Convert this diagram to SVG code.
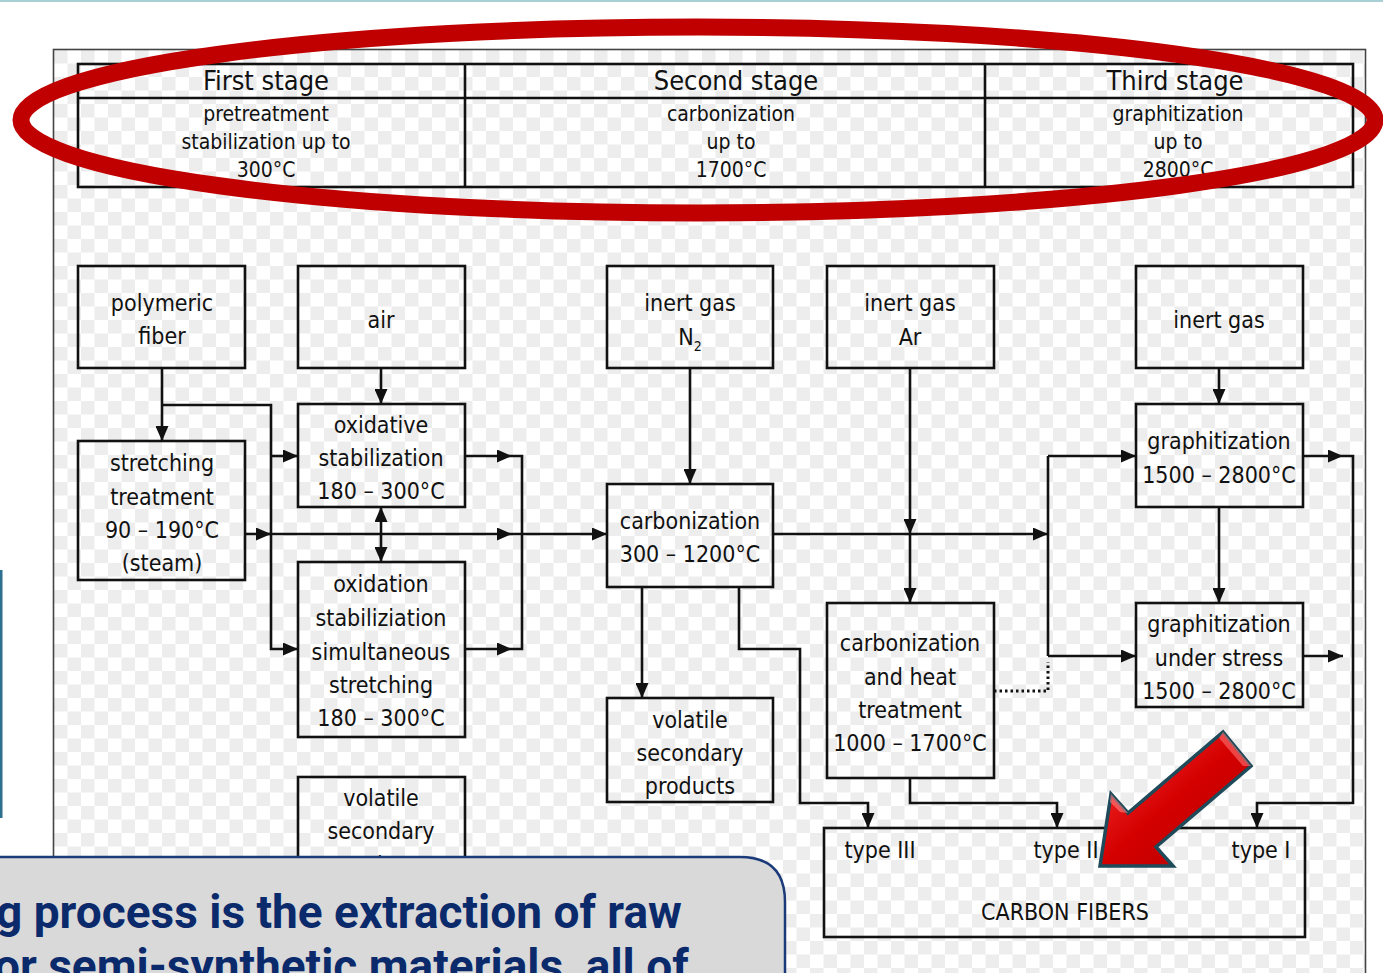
<svg xmlns="http://www.w3.org/2000/svg" width="1383" height="973" viewBox="0 0 1383 973">
<defs>
<pattern id="chk" x="54" y="50" width="27" height="27" patternUnits="userSpaceOnUse">
<rect width="27" height="27" fill="#ffffff"/>
<rect width="13.5" height="13.5" fill="#ededed"/>
<rect x="13.5" y="13.5" width="13.5" height="13.5" fill="#ededed"/>
</pattern>
<marker id="ah" markerUnits="userSpaceOnUse" markerWidth="15" markerHeight="13" refX="15" refY="6.5" orient="auto">
<path d="M0,0 L15,6.5 L0,13 z" fill="#111"/>
</marker>
<linearGradient id="rg" x1="0" y1="0" x2="1" y2="1">
<stop offset="0" stop-color="#ff3a3a"/>
<stop offset="0.5" stop-color="#d40000"/>
<stop offset="1" stop-color="#b00000"/>
</linearGradient>
<style>
.box{fill:none;stroke:#111;stroke-width:2.6}
.t{font-family:"DejaVu Sans Condensed","Liberation Sans Narrow","Liberation Sans",sans-serif;font-size:23px;fill:#111;text-anchor:middle}
.th{font-family:"DejaVu Sans Condensed","Liberation Sans Narrow","Liberation Sans",sans-serif;font-size:27px;fill:#111;text-anchor:middle}
.ts{font-family:"DejaVu Sans Condensed","Liberation Sans Narrow","Liberation Sans",sans-serif;font-size:21px;fill:#111;text-anchor:middle}
.c{fill:none;stroke:#111;stroke-width:2.6}
.ce{fill:none;stroke:#111;stroke-width:2.6;marker-end:url(#ah)}
.cal{font-family:Roboto,"Liberation Sans",sans-serif;font-weight:700;font-size:46px;fill:#0b2a6b}
</style>
</defs>
<rect width="1383" height="973" fill="#ffffff"/>
<rect x="0" y="0" width="1383" height="2" fill="#a9cfd6"/>
<rect x="0" y="570" width="2.5" height="248" fill="#2f6f8f"/>
<g id="frame">
<rect x="54" y="50" width="1311" height="930" fill="url(#chk)"/>
<rect x="53.5" y="49.5" width="1312" height="940" fill="none" stroke="#444" stroke-width="1.6"/>
</g>
<g id="table">
<rect class="box" x="78" y="64" width="1275" height="123"/>
<line class="c" x1="78" y1="98" x2="1353" y2="98"/>
<line class="c" x1="465" y1="64" x2="465" y2="187"/>
<line class="c" x1="985" y1="64" x2="985" y2="187"/>
<text class="th" x="266" y="90">First stage</text>
<text class="th" x="736" y="90">Second stage</text>
<text class="th" x="1175" y="90">Third stage</text>
<text class="ts" x="266" y="121">pretreatment</text>
<text class="ts" x="266" y="149">stabilization up to</text>
<text class="ts" x="266" y="177">300°C</text>
<text class="ts" x="731" y="121">carbonization</text>
<text class="ts" x="731" y="149">up to</text>
<text class="ts" x="731" y="177">1700°C</text>
<text class="ts" x="1178" y="121">graphitization</text>
<text class="ts" x="1178" y="149">up to</text>
<text class="ts" x="1178" y="177">2800°C</text>
</g>
<g id="connectors">
<path class="ce" d="M162 368 V441"/>
<path class="ce" d="M162 405 H271 V649 H298"/>
<path class="ce" d="M271 456 H298"/>
<path class="ce" d="M381 368 V404"/>
<path class="ce" d="M245 534 H271"/>
<path class="ce" d="M271 534 H512"/>
<path class="ce" d="M512 534 H607"/>
<path class="ce" d="M381 534 V507"/>
<path class="ce" d="M381 534 V562"/>
<path class="ce" d="M465 456 H512"/>
<path class="c" d="M512 456 H522 V649 H512"/>
<path class="ce" d="M465 649 H512"/>
<path class="ce" d="M690 368 V484"/>
<path class="ce" d="M642 587 V698"/>
<path class="ce" d="M739 587 V649 H800 V803 H868 V828"/>
<path class="ce" d="M910 368 V534"/>
<path class="ce" d="M910 534 V603"/>
<path class="ce" d="M773 534 H1048"/>
<path class="c" d="M1048 456 V656"/>
<path class="ce" d="M1048 456 H1136"/>
<path class="ce" d="M1048 656 H1136"/>
<path d="M994 691 H1048 V662" fill="none" stroke="#111" stroke-width="3" stroke-dasharray="2.5 3"/>
<path class="ce" d="M1219 368 V404"/>
<path class="ce" d="M1219 507 V603"/>
<path class="ce" d="M1303 456 H1343"/>
<path class="ce" d="M1343 456 H1353 V803 H1257 V828"/>
<path class="ce" d="M1303 656 H1343"/>
<path class="ce" d="M910 778 V803 H1057 V828"/>
</g>
<g id="n-polymeric">
<rect class="box" x="78" y="266" width="167" height="102"/>
<text class="t" x="162" y="311">polymeric</text>
<text class="t" x="162" y="344">fiber</text>
</g>
<g id="n-air">
<rect class="box" x="298" y="266" width="167" height="102"/>
<text class="t" x="381" y="328">air</text>
</g>
<g id="n-n2">
<rect class="box" x="607" y="266" width="166" height="102"/>
<text class="t" x="690" y="311">inert gas</text>
<text class="t" x="690" y="345">N<tspan font-size="14" dy="6">2</tspan></text>
</g>
<g id="n-ar">
<rect class="box" x="827" y="266" width="167" height="102"/>
<text class="t" x="910" y="311">inert gas</text>
<text class="t" x="910" y="345">Ar</text>
</g>
<g id="n-inert">
<rect class="box" x="1136" y="266" width="167" height="102"/>
<text class="t" x="1219" y="328">inert gas</text>
</g>
<g id="n-oxidative">
<rect class="box" x="298" y="404" width="167" height="103"/>
<text class="t" x="381" y="433">oxidative</text>
<text class="t" x="381" y="466">stabilization</text>
<text class="t" x="381" y="499">180 – 300°C</text>
</g>
<g id="n-stretching">
<rect class="box" x="78" y="441" width="167" height="139"/>
<text class="t" x="162" y="471">stretching</text>
<text class="t" x="162" y="505">treatment</text>
<text class="t" x="162" y="538">90 – 190°C</text>
<text class="t" x="162" y="571">(steam)</text>
</g>
<g id="n-oxidation">
<rect class="box" x="298" y="562" width="167" height="175"/>
<text class="t" x="381" y="592">oxidation</text>
<text class="t" x="381" y="626">stabiliziation</text>
<text class="t" x="381" y="660">simultaneous</text>
<text class="t" x="381" y="693">stretching</text>
<text class="t" x="381" y="726">180 – 300°C</text>
</g>
<g id="n-volatile1">
<rect class="box" x="298" y="777" width="167" height="103"/>
<text class="t" x="381" y="806">volatile</text>
<text class="t" x="381" y="839">secondary</text>
<text class="t" x="381" y="873">products</text>
</g>
<g id="n-carbonization">
<rect class="box" x="607" y="484" width="166" height="103"/>
<text class="t" x="690" y="529">carbonization</text>
<text class="t" x="690" y="562">300 – 1200°C</text>
</g>
<g id="n-volatile2">
<rect class="box" x="607" y="698" width="166" height="104"/>
<text class="t" x="690" y="728">volatile</text>
<text class="t" x="690" y="761">secondary</text>
<text class="t" x="690" y="794">products</text>
</g>
<g id="n-carbheat">
<rect class="box" x="827" y="603" width="167" height="175"/>
<text class="t" x="910" y="651">carbonization</text>
<text class="t" x="910" y="685">and heat</text>
<text class="t" x="910" y="718">treatment</text>
<text class="t" x="910" y="751">1000 – 1700°C</text>
</g>
<g id="n-graph">
<rect class="box" x="1136" y="404" width="167" height="103"/>
<text class="t" x="1219" y="449">graphitization</text>
<text class="t" x="1219" y="483">1500 – 2800°C</text>
</g>
<g id="n-graphstress">
<rect class="box" x="1136" y="603" width="167" height="104"/>
<text class="t" x="1219" y="632">graphitization</text>
<text class="t" x="1219" y="666">under stress</text>
<text class="t" x="1219" y="699">1500 – 2800°C</text>
</g>
<g id="n-carbonfibers">
<rect class="box" x="824" y="828" width="481" height="109"/>
<text class="t" x="880" y="858">type III</text>
<text class="t" x="1066" y="858">type II</text>
<text class="t" x="1261" y="858">type I</text>
<text class="t" x="1065" y="920">CARBON FIBERS</text>
</g>
<g id="highlight-ellipse">
<ellipse cx="698" cy="120" rx="677" ry="93" fill="none" stroke="#c00000" stroke-width="17"/>
</g>
<g id="red-arrow">
<polygon points="1100,866 1111,794 1128,813 1223,732 1251,766 1156,847 1173,866" fill="url(#rg)" stroke="#1e4a5a" stroke-width="3.5" stroke-linejoin="miter"/>
<polygon points="1223,732 1251,766 1243,766 1219,738" fill="#ff7070" opacity="0.6"/>
<polygon points="1111,794 1128,813 1120,812 1110,802" fill="#ff8080" opacity="0.6"/>
</g>
<g id="callout">
<path d="M-20 857 H740 Q785 857 785 902 V1000 H-20 Z" fill="#d9d9d9" stroke="#1a3a7a" stroke-width="2.5"/>
<text class="cal" x="-4" y="928">g process is the extraction of raw</text>
<text class="cal" x="-6" y="982">or semi-synthetic materials, all of</text>
</g>
</svg>
